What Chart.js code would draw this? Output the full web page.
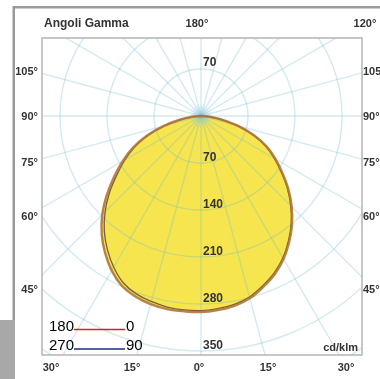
<!DOCTYPE html>
<html><head><meta charset="utf-8">
<style>html,body{margin:0;padding:0;background:#fff;overflow:hidden}canvas{display:block}</style>
<script src="https://cdn.jsdelivr.net/npm/chart.js@4/dist/chart.umd.min.js"></script>
</head><body>
<canvas id="c" width="380" height="379"></canvas>
<script>
// ---- data (cd/klm) ----
const gammaAngles = [0,5,10,15,20,25,30,35,40,45,50,55,60,65,70,75,80,85,90];
const c0   = [292,290,287,281,271,260,246,229,211,191,170,148,128,108,84,58,32,13,0];
const c180 = [292,292,292,290,286,279,266,249,230,208,183,158,135,112,86,58,32,13,0];
const c90  = [290,288,285,279,269,258,244,227,209,189,168,146,126,106,82,56,31,12,0];
const c270 = [290,290,289,286,282,274,260,243,224,202,178,153,131,109,83,56,31,12,0];
const ringValues = [70,140,210,280,350,420,490,560];
const ringLabelValues = [70,140,210,280,350];
const upperRingLabelValues = [70];
const spokeStepDeg = 15;
const sideAngleLabels = ['105°','90°','75°','60°','45°'];
const bottomAngleLabels = ['30°','15°','0°','15°','30°'];
const topLabels = ['Angoli Gamma','180°','120°'];
const legendPlanes = [['180','0'],['270','90']];
const unitLabel = 'cd/klm';

// ---- layout / styles (text placement only) ----
const sideLabelY = [72,117,163,217,290];
const bottomLabelX = [51,132,199,268,346];
const FONT = '"Liberation Sans", Arial, sans-serif';
const NARROW = '"Liberation Sans Narrow", "Arial Narrow", "Liberation Sans", sans-serif';

function planePoints(leftVals, rightVals){
  const pts = [];
  for (let i = gammaAngles.length-1; i >= 0; i--) {
    const g = gammaAngles[i]*Math.PI/180;
    pts.push({x: -leftVals[i]*Math.sin(g), y: -leftVals[i]*Math.cos(g)});
  }
  for (let i = 1; i < gammaAngles.length; i++) {
    const g = gammaAngles[i]*Math.PI/180;
    pts.push({x: rightVals[i]*Math.sin(g), y: -rightVals[i]*Math.cos(g)});
  }
  return pts;
}

const polarPlugin = {
  id: 'polar',
  beforeDraw(chart){
    const ctx = chart.ctx;
    ctx.save();
    ctx.fillStyle = '#fff';
    ctx.fillRect(0,0,chart.width,chart.height);
    ctx.fillStyle = '#9a9a9a';
    ctx.fillRect(13,6,chart.width-13,2.5);
    ctx.fillRect(12.5,6,2.5,316);
    ctx.fillStyle = '#a8a8a8';
    ctx.fillRect(0,320,15,chart.height-320);
    ctx.restore();
  },
  beforeDatasetsDraw(chart){
    const ctx = chart.ctx, a = chart.chartArea;
    const xs = chart.scales.x, ys = chart.scales.y;
    ctx.save();
    ctx.beginPath(); ctx.rect(a.left,a.top,a.right-a.left,a.bottom-a.top); ctx.clip();
    chart.data.datasets.forEach((ds,i)=>{
      const meta = chart.getDatasetMeta(i);
      const line = meta.dataset;
      ctx.beginPath();
      if (line && typeof line.path === 'function' && typeof line.updateControlPoints === 'function') {
        line.updateControlPoints(a, 'x');
        line.path(ctx);
      } else {
        meta.data.forEach((p,j)=> j ? ctx.lineTo(p.x,p.y) : ctx.moveTo(p.x,p.y));
      }
      ctx.closePath();
      ctx.fillStyle = '#f6e54f';
      ctx.fill();
    });
    const cx = xs.getPixelForValue(0), cy = ys.getPixelForValue(0);
    const gr = ctx.createRadialGradient(cx,cy,0,cx,cy,12);
    gr.addColorStop(0,'rgba(150,210,240,0.75)');
    gr.addColorStop(1,'rgba(150,210,240,0)');
    ctx.fillStyle = gr; ctx.fillRect(cx-12,cy-12,24,24);
    ctx.strokeStyle = 'rgba(110,185,205,0.3)';
    ctx.lineWidth = 1.4;
    ringValues.forEach(r=>{
      const rx = xs.getPixelForValue(r)-cx, ry = cy-ys.getPixelForValue(r);
      ctx.beginPath(); ctx.ellipse(cx,cy,rx,ry,0,0,Math.PI*2); ctx.stroke();
    });
    for (let d = 0; d < 360; d += spokeStepDeg){
      const g = d*Math.PI/180, R = 800;
      ctx.beginPath();
      ctx.moveTo(cx,cy);
      ctx.lineTo(xs.getPixelForValue(R*Math.sin(g)), ys.getPixelForValue(-R*Math.cos(g)));
      ctx.stroke();
    }
    ctx.restore();
  },
  afterDraw(chart){
    const ctx = chart.ctx, a = chart.chartArea;
    const xs = chart.scales.x, ys = chart.scales.y;
    const cx = xs.getPixelForValue(0);
    ctx.save();
    ctx.strokeStyle = '#b4b4b4'; ctx.lineWidth = 1.5;
    ctx.strokeRect(a.left,a.top,a.right-a.left,a.bottom-a.top);
    ctx.fillStyle = '#333';
    ctx.font = 'bold 12px ' + FONT;
    ctx.textAlign = 'left'; ctx.textBaseline = 'middle';
    ringLabelValues.forEach(v=>{
      ctx.fillText(String(v), cx+2, ys.getPixelForValue(-v)-5);
    });
    upperRingLabelValues.forEach(v=>{
      ctx.fillText(String(v), cx+2, ys.getPixelForValue(v)-6);
    });
    ctx.font = 'bold 11px ' + FONT;
    ctx.textAlign = 'right';
    sideAngleLabels.forEach((t,i)=> ctx.fillText(t, 38, sideLabelY[i]));
    ctx.textAlign = 'left';
    sideAngleLabels.forEach((t,i)=> ctx.fillText(t, 363, sideLabelY[i]));
    ctx.textAlign = 'center';
    bottomAngleLabels.forEach((t,i)=> ctx.fillText(t, bottomLabelX[i], 368));
    ctx.textBaseline = 'alphabetic';
    ctx.textAlign = 'center';
    ctx.fillText(topLabels[1], 197, 27);
    ctx.fillText(topLabels[2], 365, 27);
    ctx.textAlign = 'right';
    ctx.textBaseline = 'middle';
    ctx.fillText(unitLabel, 358, 348);
    ctx.textBaseline = 'alphabetic';
    ctx.textAlign = 'left';
    ctx.font = 'bold 12px ' + FONT;
    ctx.fillText(topLabels[0], 44, 27);
    const lc = ['#e01e1e','#1c2a8c'];
    ctx.font = '15px ' + NARROW;
    ctx.fillStyle = '#000';
    legendPlanes.forEach((p,i)=>{
      const y = 330.5 + i*19.5;
      ctx.textAlign = 'left';
      ctx.fillText(p[0], 49, y);
      ctx.fillText(p[1], 126, y);
      ctx.strokeStyle = lc[i]; ctx.lineWidth = 1.3;
      ctx.beginPath(); ctx.moveTo(74,y-1); ctx.lineTo(125,y-1); ctx.stroke();
    });
    ctx.restore();
  }
};

new Chart(document.getElementById('c'), {
  type: 'scatter',
  data: {
    datasets: [
      {label:'C0-180', data: planePoints(c180, c0), showLine:true, borderColor:'rgba(175,120,60,0.9)', borderWidth:2.4, pointRadius:0, tension:0.4},
      {label:'C90-270', data: planePoints(c270, c90), showLine:true, borderColor:'rgba(100,70,55,0.85)', borderWidth:1.3, pointRadius:0, tension:0.4}
    ]
  },
  options: {
    responsive:false, animation:false, devicePixelRatio:1,
    layout:{padding:{left:42,right:18,top:38,bottom:24}},
    scales:{
      x:{type:'linear', min:-236.8, max:239.8, display:false},
      y:{type:'linear', min:-356, max:116.2, display:false}
    },
    plugins:{legend:{display:false}, tooltip:{enabled:false}}
  },
  plugins:[polarPlugin]
});
</script>
</body></html>
